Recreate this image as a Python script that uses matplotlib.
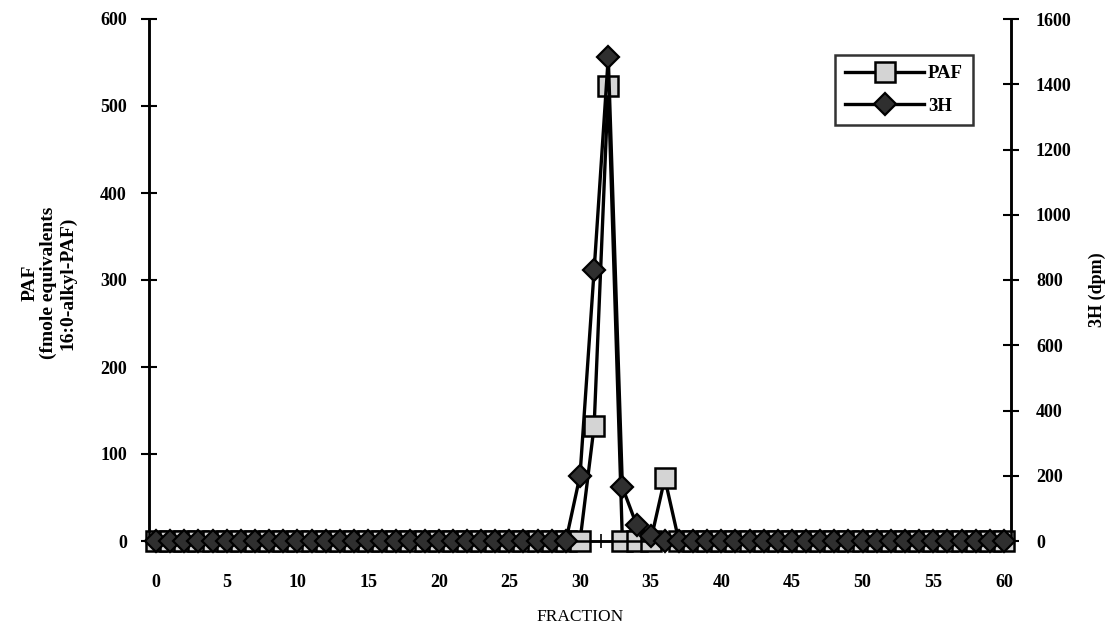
import matplotlib
matplotlib.use("Agg")
import matplotlib.pyplot as plt
from matplotlib.ticker import MultipleLocator, FixedLocator

plt.rcParams['font.family'] = ['Liberation Serif', 'DejaVu Serif']
plt.rcParams['font.weight'] = 'bold'

# Fraction numbers collected from the column
fractions = list(range(61))

# PAF (fmole equivalents 16:0-alkyl-PAF) per fraction
paf = [0, 0, 0, 0, 0, 0, 0, 0, 0, 0,
       0, 0, 0, 0, 0, 0, 0, 0, 0, 0,
       0, 0, 0, 0, 0, 0, 0, 0, 0, 0,
       0, 132, 523, 0, 0, 0, 72, 0, 0, 0,
       0, 0, 0, 0, 0, 0, 0, 0, 0, 0,
       0, 0, 0, 0, 0, 0, 0, 0, 0, 0,
       0]

# 3H radioactivity (dpm) per fraction
h3 = [0, 0, 0, 0, 0, 0, 0, 0, 0, 0,
      0, 0, 0, 0, 0, 0, 0, 0, 0, 0,
      0, 0, 0, 0, 0, 0, 0, 0, 0, 0,
      200, 830, 1483, 165, 50, 15, 0, 0, 0, 0,
      0, 0, 0, 0, 0, 0, 0, 0, 0, 0,
      0, 0, 0, 0, 0, 0, 0, 0, 0, 0,
      0]

x_tick_labels = [str(v) for v in range(0, 61, 5)]

W, H = 1112, 629
fig = plt.figure(figsize=(W / 100, H / 100), dpi=100)
ax = fig.add_axes([149 / W, 1 - 541 / H, (1011 - 149) / W, (541 - 19) / H])
ax2 = ax.twinx()

line_kw = dict(color='black', linewidth=2.4, clip_on=False)
paf_line, = ax.plot(fractions, paf, marker='s', markersize=14.5,
                    markerfacecolor='#d4d4d4', markeredgecolor='black',
                    markeredgewidth=1.8, zorder=3, **line_kw)
h3_line, = ax2.plot(fractions, h3, marker='D', markersize=11.5,
                    markerfacecolor='#2f2f2f', markeredgecolor='black',
                    markeredgewidth=1.6, zorder=3, **line_kw)

ax.set_xlim(-0.5, 60.5)
ax.set_ylim(0, 600)
ax2.set_ylim(0, 1600)

ax.set_xticks(range(0, 61, 5))
ax.set_xticklabels(x_tick_labels)
ax.xaxis.set_minor_locator(FixedLocator([i + 0.5 for i in range(-1, 61)]))
ax.tick_params(axis='x', which='major', length=0, pad=24, labelsize=13)
ax.tick_params(axis='x', which='minor', length=10, width=1.2, direction='inout')

ax.yaxis.set_major_locator(MultipleLocator(100))
ax2.yaxis.set_major_locator(MultipleLocator(200))
ax.tick_params(axis='y', length=12, width=1.5, direction='inout', pad=10,
               labelsize=13)
ax2.tick_params(axis='y', length=12, width=1.5, direction='inout', pad=12,
                labelsize=13)

for a in (ax, ax2):
    a.spines['top'].set_visible(False)
    for s in ('left', 'right', 'bottom'):
        a.spines[s].set_linewidth(1.8)
ax.patch.set_visible(False)
ax2.set_zorder(ax.get_zorder() + 1)

ax.set_xlabel('FRACTION', fontsize=12.5, labelpad=13)
fig.text(49 / W, 1 - 283 / H, 'PAF\n(fmole equivalents\n16:0-alkyl-PAF)',
         rotation=90, ha='center', va='center', fontsize=14,
         linespacing=1.15, fontweight='bold')
fig.text(1097 / W, 1 - 290 / H, '3H (dpm)', rotation=90, ha='center',
         va='center', fontsize=13, fontweight='bold')

leg = fig.legend([paf_line, h3_line], ['PAF', '3H'],
                 loc='upper left', bbox_to_anchor=(835 / W, 1 - 55 / H),
                 frameon=True, fancybox=False, fontsize=13.5,
                 handlelength=4.2, handletextpad=0.2, borderpad=0.55,
                 labelspacing=0.8, borderaxespad=0)
leg.get_frame().set_edgecolor('black')
leg.get_frame().set_linewidth(1.8)
for t in leg.get_texts():
    t.set_fontweight('bold')

fig.savefig('out.png', dpi=100)
